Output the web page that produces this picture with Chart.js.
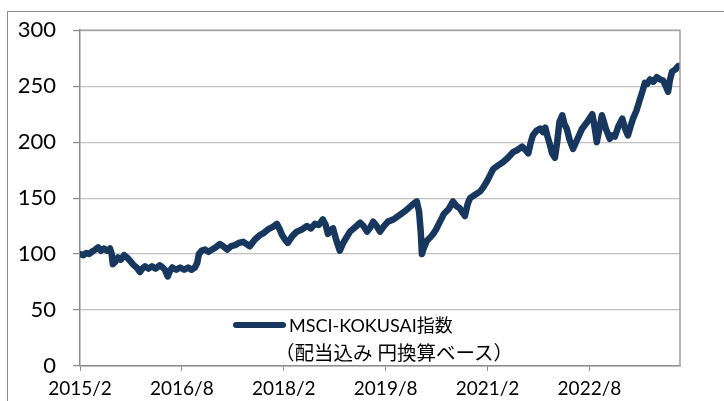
<!DOCTYPE html>
<html>
<head>
<meta charset="utf-8">
<script src="https://cdn.jsdelivr.net/npm/chart.js@4/dist/chart.umd.min.js"></script>
<style>
  html, body { margin:0; padding:0; background:#fff; }
  #wrap { position:relative; width:724px; height:401px; overflow:hidden; }
  #frame { position:absolute; left:7px; top:11px; width:800px; height:500px; border:1px solid #8c8c8c; box-sizing:border-box; }
  canvas { position:absolute; left:0; top:0; }
  #legend { position:absolute; left:233px; top:311px; font-family:Lato, "Noto Sans CJK JP", sans-serif; font-size:18px; color:#000; line-height:28px; }
  #legend .swatch { position:absolute; left:0; top:11px; width:53px; height:6px; border-radius:3px; background:#17375e; }
  #legend .txt { margin-left:56px; white-space:nowrap; }
  #legend .l2 { display:inline-block; margin-left:-14px; font-size:19.5px; }
</style>
</head>
<body>
<div id="wrap">
  <div id="frame"></div>
  <canvas id="c" width="724" height="401"></canvas>
  <div id="legend"><div class="swatch"></div><div class="txt">MSCI-KOKUSAI指数<br><span class="l2">（配当込み 円換算ベース）</span></div></div>
</div>
<script>
// months since 2015/2
const monthOffsets = [0,0.6,1.1,1.6,2.1,2.7,3.2,3.7,4.2,4.8,5.3,5.6,5.8,6.2,6.7,7.2,7.8,8.5,9.0,9.5,10.0,10.6,11.0,11.5,12.1,12.7,13.4,14.1,14.6,15.0,15.5,15.9,16.3,17.0,17.7,18.4,19.1,19.7,20.3,20.7,21.0,21.5,22.1,22.7,23.3,24.0,24.7,25.3,26.0,26.7,27.4,28.1,28.8,29.4,30.0,30.9,31.8,32.5,33.2,34.0,34.8,35.3,35.7,36.2,36.7,37.5,38.3,39.2,40.1,40.8,41.5,42.2,42.9,43.4,43.8,44.2,44.7,45.3,45.9,46.5,47.1,47.7,48.6,49.5,50.1,50.7,51.3,51.8,52.4,53.0,53.7,54.4,55.4,56.5,57.6,58.7,59.2,59.5,59.9,60.2,60.4,60.7,61.3,61.9,62.4,62.9,63.3,63.8,64.3,65.1,65.9,66.5,67.1,67.6,68.0,68.5,68.9,69.8,70.7,71.3,71.9,72.5,73.0,73.8,74.7,75.6,76.5,77.3,78.1,78.7,79.2,79.6,80.0,80.6,81.3,81.8,82.2,82.6,83.0,83.4,83.9,84.3,84.7,85.2,85.6,86.0,86.5,87.1,87.9,88.7,89.6,90.5,90.9,91.3,91.8,92.2,92.9,93.6,94.1,94.5,95.1,95.8,96.3,96.8,97.2,97.7,98.3,98.9,99.4,99.8,100.2,100.7,101.3,101.9,102.5,103.0,103.5,103.9,104.2,104.6,105.2,105.7,106];
const indexValues = [100,99,101,100,102,104,106,103,105,103,105,100,91,93,97,95,99,96,93,90,88,84,87,89,87,89,87,90,88,86,80,85,88,86,88,86,88,86,88,92,100,103,104,102,104,106,109,107,104,107,108,110,111,109,107,113,117,119,122,124,127,122,117,113,110,116,120,122,125,123,127,126,131,126,118,121,123,112,103,110,115,120,124,128,125,120,124,129,125,120,125,129,131,135,139,144,146,147,138,120,100,105,112,115,118,122,126,131,136,140,147,143,141,137,134,145,150,153,156,160,165,171,176,179,182,186,191,193,196,193,190,199,206,210,212,209,213,205,198,190,186,200,218,224,216,212,202,194,203,212,218,225,214,200,213,224,212,203,206,205,214,221,212,206,213,221,228,238,246,253,252,256,254,258,256,255,250,245,255,263,265,268,268];
const tickMonths = [0,18,36,54,72,90];
const tickLabels = ['2015/2','2016/8','2018/2','2019/8','2021/2','2022/8'];
const seriesName = 'MSCI-KOKUSAI指数（配当込み 円換算ベース）';

const points = monthOffsets.map((m,i)=>({x:m, y:indexValues[i]}));

const frame = {
  id:'frame',
  afterDraw(chart){
    const {ctx, chartArea:a} = chart;
    ctx.save();
    ctx.strokeStyle = '#a0a0a0';
    ctx.lineWidth = 1.5;
    ctx.beginPath();
    ctx.moveTo(a.left, a.top); ctx.lineTo(a.right, a.top); ctx.lineTo(a.right, a.bottom);
    ctx.stroke();
    ctx.restore();
  }
};

new Chart(document.getElementById('c'), {
  type:'line',
  data:{ datasets:[{ label:seriesName, data:points, borderColor:'#17375e', borderWidth:6.5, pointRadius:0, tension:0, borderJoinStyle:'round', borderCapStyle:'round', fill:false }]},
  options:{
    responsive:false, animation:false,
    layout:{ padding:{ left:0, right:44, top:27, bottom:0 } },
    plugins:{ legend:{display:false}, tooltip:{enabled:false} },
    scales:{
      x:{
        type:'linear', min:0, max:106,
        afterBuildTicks(axis){ axis.ticks = tickMonths.map(v=>({value:v})); },
        afterFit(axis){ axis.height = 35; },
        ticks:{ autoSkip:false, maxRotation:0, padding:6, color:'#000', font:{family:'Lato', size:19},
          callback(v){ const i = tickMonths.indexOf(v); return i>=0 ? tickLabels[i] : ''; } },
        grid:{ drawOnChartArea:false, drawTicks:true, tickLength:5, tickColor:'#8c8c8c' },
        border:{ color:'#8c8c8c', width:1.5 }
      },
      y:{
        min:0, max:300,
        afterFit(axis){ axis.width = 80; },
        ticks:{ stepSize:50, padding:17, color:'#000', font:{family:'Lato', size:22} },
        grid:{ color:'#c0c0c0', lineWidth:1.2, tickLength:7, tickColor:'#8c8c8c' },
        border:{ color:'#8c8c8c', width:1.5 }
      }
    }
  },
  plugins:[frame]
});
</script>
</body>
</html>
